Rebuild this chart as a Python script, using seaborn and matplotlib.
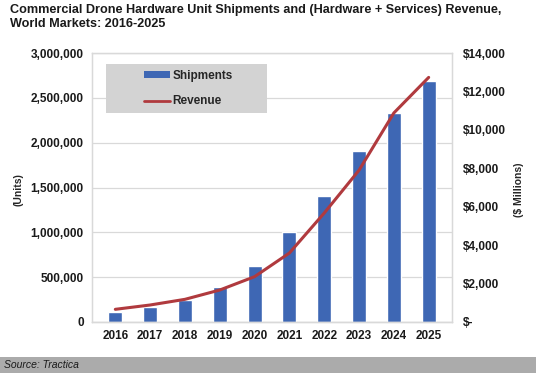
import matplotlib
matplotlib.use("Agg")
import matplotlib.pyplot as plt
import seaborn as sns
import pandas as pd
from matplotlib.patches import Patch, Rectangle
from matplotlib.lines import Line2D
from matplotlib.ticker import FuncFormatter

sns.set_theme(style="white")
plt.rcParams["font.family"] = ["Liberation Sans", "DejaVu Sans"]

# data
years = ["2016", "2017", "2018", "2019", "2020", "2021", "2022", "2023", "2024", "2025"]
shipments = [112000, 170000, 245000, 390000, 628000, 1000000, 1410000, 1910000, 2335000, 2685000]
revenue = [660, 885, 1180, 1665, 2360, 3590, 5670, 7900, 10880, 12730]

df = pd.DataFrame({"year": years, "shipments": shipments, "revenue": revenue})

bar_color = "#3E67B4"
line_color = "#B03A3E"
grid_color = "#d9d9d9"

fig = plt.figure(figsize=(5.36, 3.73), dpi=100)
ax = fig.add_axes([92 / 536, 1 - 322 / 373, (452 - 92) / 536, (322 - 53) / 373])

sns.barplot(data=df, x="year", y="shipments", color=bar_color, width=0.4,
            saturation=1, ax=ax)
ax.set_ylim(0, 3000000)
ax.set_yticks(range(0, 3000001, 500000))
ax.yaxis.set_major_formatter(FuncFormatter(lambda v, p: f"{int(v):,}"))
ax.yaxis.grid(True, color=grid_color, linewidth=0.9)
ax.set_axisbelow(True)
ax.set_xlabel("")
ax.set_ylabel("")
ax.tick_params(axis="both", length=0, labelsize=8.5, pad=6)
for lab in ax.get_xticklabels() + ax.get_yticklabels():
    lab.set_fontweight("bold")
    lab.set_color("#1a1a1a")
for s in ax.spines.values():
    s.set_color(grid_color)
    s.set_linewidth(0.9)
ax.spines["bottom"].set_color("#bfbfbf")

ax2 = ax.twinx()
sns.lineplot(data=df, x="year", y="revenue", color=line_color, linewidth=2.2, ax=ax2)
ax2.set_ylim(0, 14000)
ax2.set_yticks(range(0, 14001, 2000))
ax2.yaxis.set_major_formatter(FuncFormatter(lambda v, p: "$-" if v == 0 else f"${int(v):,}"))
ax2.set_ylabel("")
ax2.tick_params(axis="y", length=0, labelsize=8.5, pad=8)
for lab in ax2.get_yticklabels():
    lab.set_fontweight("bold")
    lab.set_color("#1a1a1a")
for s in ax2.spines.values():
    s.set_color(grid_color)
    s.set_linewidth(0.9)

# gray legend box, wider than the entries like in the reference
x0, x1 = (106 - 92) / 360, (267 - 92) / 360
y0, y1 = (322 - 113) / 269, (322 - 64) / 269
ax2.add_patch(Rectangle((x0, y0), x1 - x0, y1 - y0, transform=ax2.transAxes,
                        facecolor="#d3d3d3", edgecolor="none", zorder=3))

handles = [Patch(facecolor=bar_color, edgecolor="none"),
           Line2D([0], [0], color=line_color, linewidth=2)]
leg = ax2.legend(handles, ["Shipments", "Revenue"], loc="center",
                 bbox_to_anchor=((x0 + x1) / 2 + 0.005, (y0 + y1) / 2),
                 frameon=False, prop={"weight": "bold", "size": 8.5},
                 handlelength=2.2, handleheight=0.5, labelspacing=1.15,
                 borderaxespad=0, handletextpad=0.2)
leg.set_zorder(4)

fig.text(18 / 536, 1 - 190 / 373, "(Units)", rotation=90,
         ha="center", va="center", fontsize=7.5, fontweight="bold")
fig.text(519 / 536, 1 - 190 / 373, "($ Millions)", rotation=90,
         ha="center", va="center", fontsize=7.5, fontweight="bold")

fig.text(10 / 536, 1 - 4 / 373,
         "Commercial Drone Hardware Unit Shipments and (Hardware + Services) Revenue,\nWorld Markets: 2016-2025",
         ha="left", va="top", fontsize=9.1, fontweight="bold", color="#1a1a1a",
         linespacing=1.25)

fig.patches.append(Rectangle((0, 0), 1, 16 / 373, transform=fig.transFigure,
                             facecolor="#ababab", edgecolor="none", zorder=0))
fig.text(4 / 536, 8 / 373, "Source: Tractica", ha="left", va="center",
         fontsize=7.5, style="italic", color="#1a1a1a")

fig.savefig("out.png", dpi=100)
